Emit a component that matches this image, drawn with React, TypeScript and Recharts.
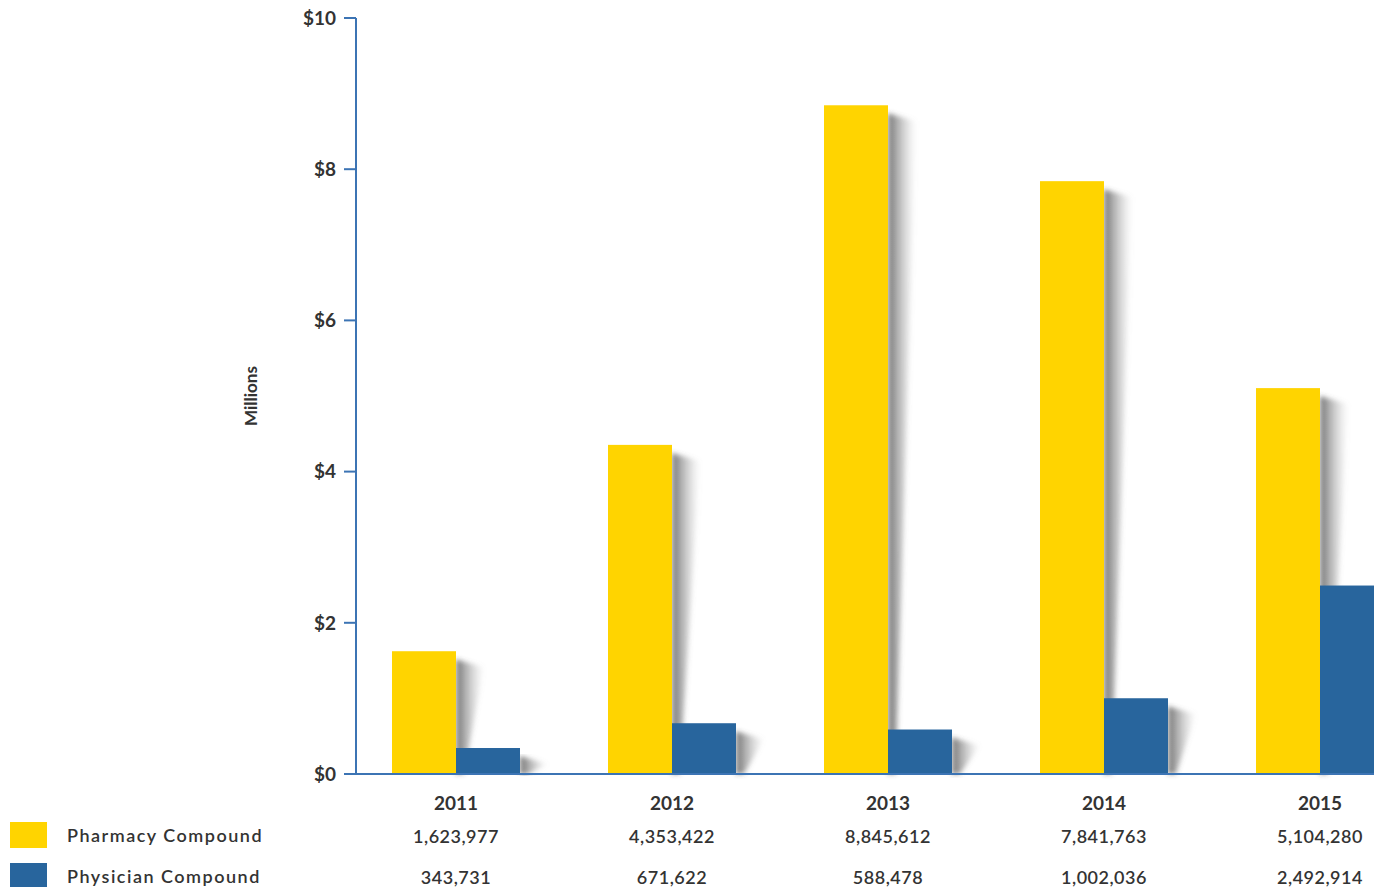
import React from "react";
import { BarChart, Bar, XAxis, YAxis } from "recharts";

const years = ["2011", "2012", "2013", "2014", "2015"];
const pharmacy = [1623977, 4353422, 8845612, 7841763, 5104280];
const physician = [343731, 671622, 588478, 1002036, 2492914];
const yTicks = [0, 2, 4, 6, 8, 10];
const seriesNames = ["Pharmacy Compound", "Physician Compound"];

const YELLOW = "#FFD400";
const BLUE = "#28659D";
const AXIS = "#3C74B4";
const TEXT = "#333333";
const FONT = "Lato, 'Open Sans', sans-serif";

const data = years.map((y, i) => ({
  year: y,
  pharmacy: pharmacy[i] / 1e6,
  physician: physician[i] / 1e6,
}));

const fmt = (v: number) => v.toLocaleString("en-US");

const ShadowBar = (props: any) => {
  const { x, y, width, height, fill } = props;
  if (height <= 0) return null;
  const r = x + width;
  const b = y + height;
  const pts = `${r},${y + 8} ${r + 28},${y + 16} ${r + 8},${b} ${r},${b}`;
  return (
    <g>
      <polygon points={pts} fill="url(#shadowGrad)" filter="url(#shadowBlur)" />
      <rect x={x} y={y} width={width} height={height} fill={fill} />
    </g>
  );
};

const XTick = (props: any) => {
  const { x, y, payload } = props;
  const i = payload.index;
  return (
    <g>
      <text x={x} y={y + 28} textAnchor="middle" fill={TEXT} fontFamily={FONT} fontWeight={700} fontSize={19}>
        {years[i]}
      </text>
      <text x={x} y={y + 61} textAnchor="middle" fill={TEXT} fontFamily={FONT} fontWeight={600} fontSize={18} letterSpacing={0.5}>
        {fmt(pharmacy[i])}
      </text>
      <text x={x} y={y + 102} textAnchor="middle" fill={TEXT} fontFamily={FONT} fontWeight={600} fontSize={18} letterSpacing={0.5}>
        {fmt(physician[i])}
      </text>
    </g>
  );
};

export default function App() {
  return (
    <div style={{ position: "absolute", left: 0, top: 0, width: 1374, height: 891, overflow: "hidden", background: "#fff" }}>
      <BarChart
        width={1374}
        height={891}
        data={data}
        margin={{ top: 18, right: 0, bottom: 0, left: 296 }}
        barGap={0}
        barSize={64}
      >
        <defs>
          <linearGradient id="shadowGrad" x1="0" y1="0" x2="1" y2="0">
            <stop offset="0%" stopColor="#333" stopOpacity={0.7} />
            <stop offset="100%" stopColor="#999" stopOpacity={0} />
          </linearGradient>
          <filter id="shadowBlur" x="-50%" y="-10%" width="200%" height="120%">
            <feGaussianBlur stdDeviation="2.5" />
          </filter>
        </defs>
        <XAxis
          dataKey="year"
          axisLine={{ stroke: AXIS, strokeWidth: 2 }}
          tickLine={false}
          padding={{ left: -8, right: -54 }}
          tick={<XTick />}
          interval={0}
          height={117}
        />
        <YAxis
          width={60}
          domain={[0, 10]}
          ticks={yTicks}
          tickFormatter={(v: number) => `$${v}`}
          axisLine={{ stroke: AXIS, strokeWidth: 2 }}
          tickLine={{ stroke: AXIS, strokeWidth: 2 }}
          tickSize={12}
          tickMargin={8}
          tick={{ fill: TEXT, fontFamily: FONT, fontWeight: 700, fontSize: 19 }}
          label={{
            value: "Millions",
            angle: -90,
            position: "insideLeft",
            offset: 0,
            dx: -45,
            style: { fill: TEXT, fontFamily: FONT, fontWeight: 700, fontSize: 17, textAnchor: "middle" },
          }}
        />
        <Bar dataKey="pharmacy" name={seriesNames[0]} fill={YELLOW} shape={<ShadowBar />} isAnimationActive={false} />
        <Bar dataKey="physician" name={seriesNames[1]} fill={BLUE} shape={<ShadowBar />} isAnimationActive={false} />
      </BarChart>
      <div style={{ position: "absolute", left: 10, top: 822, width: 37, height: 26, background: YELLOW }} />
      <div style={{ position: "absolute", left: 10, top: 863, width: 37, height: 24, background: BLUE }} />
      <div style={{ position: "absolute", left: 67, top: 824, fontFamily: FONT, fontWeight: 600, fontSize: 18, color: TEXT, lineHeight: "22px", letterSpacing: 1.5 }}>
        {seriesNames[0]}
      </div>
      <div style={{ position: "absolute", left: 67, top: 865, fontFamily: FONT, fontWeight: 600, fontSize: 18, color: TEXT, lineHeight: "22px", letterSpacing: 1.5 }}>
        {seriesNames[1]}
      </div>
    </div>
  );
}
